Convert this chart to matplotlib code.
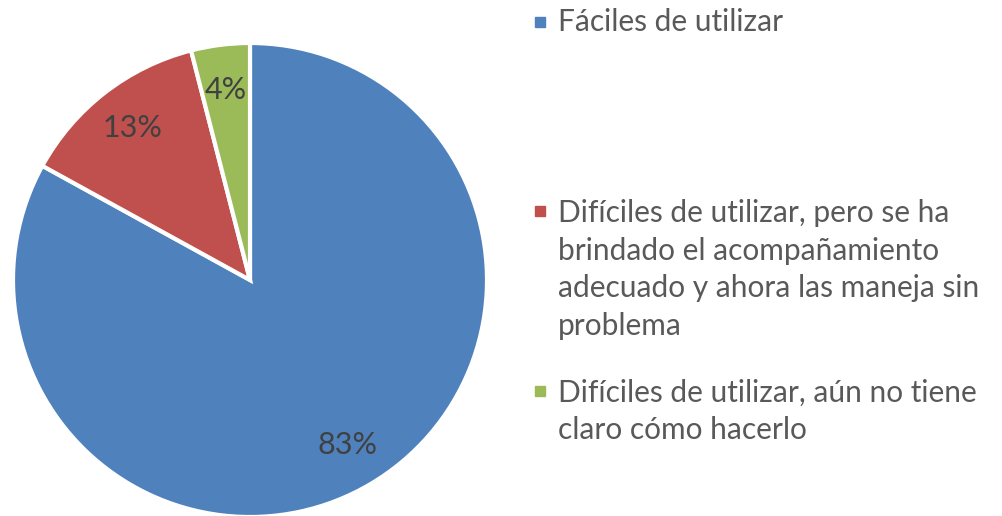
import matplotlib.pyplot as plt
from matplotlib.patches import Rectangle

# datos
etiquetas = ['Fáciles de utilizar',
             'Difíciles de utilizar, pero se ha\nbrindado el acompañamiento\nadecuado y ahora las maneja sin\nproblema',
             'Difíciles de utilizar, aún no tiene\nclaro cómo hacerlo']
valores = [83, 13, 4]
colores = ['#4F81BD', '#C0504D', '#9BBB59']

W, H = 1003, 516
fig = plt.figure(figsize=(W / 100, H / 100), dpi=100)

# pastel: centro (250, 280) px, radio 237 px
cx, cy, r = 250, 280, 237
ax = fig.add_axes([(cx - r) / W, (H - cy - r) / H, 2 * r / W, 2 * r / H])
wedges, textos, pcts = ax.pie(valores, colors=colores, startangle=90, counterclock=False,
                              autopct='%1.0f%%', pctdistance=0.81,
                              wedgeprops=dict(edgecolor='white', linewidth=3))
for t in pcts:
    t.set_fontsize(22)
    t.set_color('#404040')
    t.set_family('Lato')
ax.set_xlim(-1, 1)
ax.set_ylim(-1, 1)
ax.set_aspect('equal')

# leyenda manual
ys = [22, 269.5, 411.5]
ys_marca = [22, 211, 391]
for lab, col, y, ym in zip(etiquetas, colores, ys, ys_marca):
    fig.patches.append(Rectangle(((535) / W, (H - ym - 5) / H), 10 / W, 10 / H,
                                 transform=fig.transFigure, color=col))
    fig.text(558 / W, (H - y) / H, lab, va='center', ha='left', fontsize=21.5,
             color='#595959', family='Lato', linespacing=1.43)

fig.savefig('out.png', dpi=100)
